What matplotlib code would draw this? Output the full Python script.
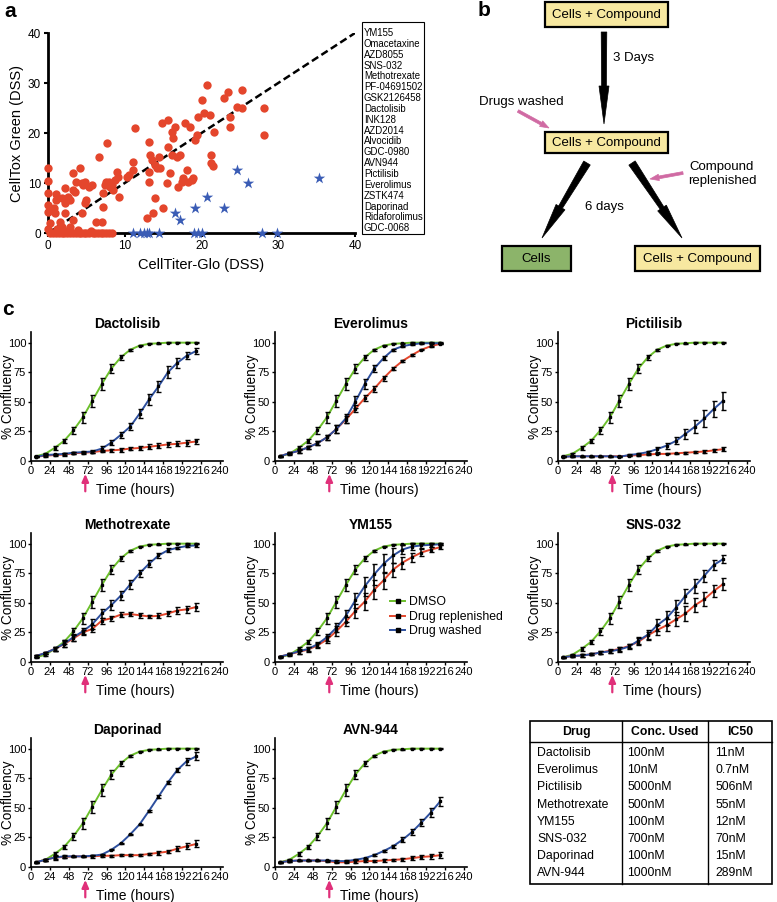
import numpy as np
import matplotlib.pyplot as plt
from matplotlib.patches import Rectangle, Polygon
from matplotlib.lines import Line2D

plt.rcParams['font.family'] = ['Liberation Sans', 'DejaVu Sans']

W, H = 777, 902

# ---- panel a: DSS scatter
red_x = [0, 0, 0, 0, 0, 0.2, 0, 0.8, 0.9, 1.1, 1.0, 1.8, 2.2, 2.2, 2.6, 2.2, 1.6, 1.8, 2.9,
         3.7, 2.9, 3.3, 3.3, 3.5, 4.2, 4.4, 4.6, 4.8, 5.0, 4.8, 4.4, 3.3,
         5.4, 5.7, 6.6, 6.3, 7.0, 7.2, 7.2, 7.4, 7.6, 7.7, 7.9, 8.1, 8.3, 8.5, 8.7, 9.0, 9.2, 9.1,
         10.3, 10.5, 11.1, 11.1, 11.3,
         12.9, 13.1, 13.1, 13.1, 13.3, 13.5, 13.7, 14.0, 14.0, 14.2, 14.4, 14.6, 14.8, 15.0, 15.5,
         15.7, 15.7, 15.9, 16.1, 16.1, 16.3, 16.6, 16.8, 17.0, 17.2, 17.4, 17.6, 17.9, 18.1, 18.3,
         18.5, 18.7, 18.9, 19.2, 19.4, 19.6, 20.0, 20.3, 20.7, 21.1, 21.3, 21.3, 21.6, 21.5,
         22.9, 23.5, 23.7, 23.7, 24.6, 25.3, 25.3, 28.1, 28.1,
         0.3, 0.7, 1.0, 1.4, 1.8, 2.1, 2.5, 2.9, 3.2, 3.6, 4.0, 4.3, 4.7, 5.0, 5.4, 5.8, 6.1,
         6.5, 6.9, 7.2, 7.6, 8.0, 8.4, 1.2, 2.7, 3.9, 5.6]
red_y = [13, 10.5, 8, 5.7, 4.2, 2, 0.8, 5, 4, 6.7, 7.8, 7, 9, 6, 7.3, 4, 2.3, 1.3, 1.3,
         10.3, 6.7, 12, 8.7, 8.3, 13, 10, 9.7, 10.3, 6.7, 6, 4, 2.7,
         9.3, 9.7, 15.3, 2.3, 2.3, 5.3, 8, 9.7, 10.3, 18, 10.3, 9.3, 9.7, 8.7, 10.7, 12.3, 7.3, 11.3,
         11.3, 11.7, 14.3, 12.7, 21,
         3, 10.3, 18.3, 12.3, 15.7, 14.7, 4, 7, 13.7, 13, 15.3, 13, 22, 5, 10,
         22.7, 17.3, 12, 20.3, 15.7, 19, 21.3, 15.3, 9.3, 15.7, 10.3, 11, 22, 12.7, 10.3,
         21.3, 10.7, 11, 18.7, 19.7, 23.3, 26.7, 24, 29.7, 23.7, 15.7, 14, 20.3, 13.5,
         27, 28.3, 23.3, 21.3, 25.3, 28.7, 25, 25, 19.7,
         0, 0, 0, 0, 0, 0, 0, 0, 0, 0, 0, 0, 0, 0, 0, 0, 0,
         0, 0, 0, 0, 0, 0, 0.8, 0.6, 0.7, 0.5]
star_x = [11.1, 12.0, 12.5, 12.9, 13.2, 14.4, 19.0, 19.5, 20.0, 27.9, 29.8,
          16.6, 17.2, 19.2, 20.7, 22.9, 24.6, 26.1, 35.3]
star_y = [0, 0, 0, 0, 0, 0, 0, 0, 0, 0, 0,
          4, 2.7, 5, 7.3, 5, 12.7, 10.1, 11]
star_drugs = ['YM155', 'Omacetaxine', 'AZD8055', 'SNS-032', 'Methotrexate', 'PF-04691502',
              'GSK2126458', 'Dactolisib', 'INK128', 'AZD2014', 'Alvocidib', 'GDC-0980',
              'AVN944', 'Pictilisib', 'Everolimus', 'ZSTK474', 'Daporinad', 'Ridaforolimus',
              'GDC-0068']

# ---- panel c: confluency time courses
hours = [6, 18, 30, 42, 54, 66, 78, 90, 102, 114, 126, 138, 150, 162, 174, 186, 198, 210]
dmso = [4, 6, 11, 17, 26, 37, 51, 65, 78, 87.5, 94, 97.5, 99, 99.5, 100, 100, 100, 100]
dmso_err = [0.5, 1, 2, 2, 3, 4.5, 5, 5, 4, 2, 1, 0.5, 0.5, 0.5, 0.5, 0.5, 0.5, 0.5]

dact_wash = [3.5, 5, 5.5, 6, 7, 7.5, 8, 10.5, 15.5, 22, 29, 40, 52, 63, 75, 83, 89, 93]
dact_wash_err = [0.5, 0.5, 0.5, 1, 1, 1, 1.5, 2, 2, 2.5, 3, 4, 4.5, 5, 5, 4, 3, 2.5]
dact_repl = [3.5, 4.5, 5, 5.5, 6.5, 7, 7.5, 8.5, 9, 9.5, 10.5, 11, 12, 13, 14, 14.5, 15.5, 16.5]
dact_repl_err = [0.5, 1, 1, 1, 1, 1, 1, 1, 1, 1.5, 1.5, 1.5, 2, 2, 2, 2, 2.5, 2.5]

ever_wash = [4, 6.5, 8.5, 11.5, 15, 20, 27, 36, 50, 65, 78, 87, 94, 97, 98.5, 99.5, 99.5, 99.5]
ever_wash_err = [0.5, 1, 2, 1.5, 1.5, 2, 3, 4, 5, 4, 3, 2, 1, 0.5, 0.5, 0.5, 0.5, 0.5]
ever_repl = [4, 6.5, 8.5, 11.5, 15, 20, 27, 35, 44, 53, 61, 70, 78, 84.5, 89.5, 94, 97, 99]
ever_repl_err = [0.5, 1, 2, 1.5, 1.5, 2, 3, 3, 3, 2.5, 2.5, 2, 1.5, 1, 0.5, 0.5, 0.5, 0.5]

pict_wash = [3.5, 4, 4, 4, 4, 4, 3.5, 5, 6, 7.5, 10, 13, 17, 23, 29, 36, 44, 51]
pict_wash_err = [0.5, 0.5, 0.5, 0.5, 0.5, 0.5, 0.5, 0.5, 1, 1, 2, 2.5, 3, 4, 5.5, 7, 7, 7.5]
pict_repl = [3.5, 4, 4, 4, 4, 4, 4, 4.5, 5, 5.5, 6, 6, 6.5, 7, 7.5, 8, 9, 10]
pict_repl_err = [0.5, 0.5, 0.5, 0.5, 0.5, 0.5, 0.5, 0.5, 0.5, 0.5, 0.5, 0.5, 0.5, 1, 1, 1, 1.5, 1.5]

metho_wash = [5, 7.5, 11, 15.5, 21, 26, 32, 41, 48, 56, 65.5, 75, 83, 90, 94.5, 96.5, 98, 98.5]
metho_wash_err = [0.5, 1, 2, 3, 3, 2.5, 4, 4, 4, 4, 4, 3, 3, 2, 1.5, 1, 1, 1]
metho_repl = [5, 7.5, 11, 15, 20, 25, 28, 35, 37, 40, 40.5, 39.5, 38.5, 39, 41, 43.5, 44.5, 46.5]
metho_repl_err = [0.5, 1, 2, 2.5, 2.5, 2, 3, 2.5, 2, 2, 2, 2, 1.5, 2, 2.5, 3, 3, 3.5]

ym_wash = [4.5, 6.5, 9, 11, 15, 21, 29, 39, 52, 64, 74, 83, 90, 95, 97.5, 98.5, 99, 99.5]
ym_wash_err = [0.5, 1, 2, 2, 2, 3, 4, 5, 6, 8, 9, 8, 6, 4, 3, 2, 1.5, 1]
ym_repl = [4.5, 6.5, 8.5, 10.5, 14, 19, 26, 34, 43, 51, 61, 69, 78, 84, 88.5, 92.5, 95, 97]
ym_repl_err = [0.5, 1, 2, 2, 2, 3, 4, 4, 6, 7, 8, 7, 6, 5, 4, 3, 2, 1.5]

sns_wash = [4, 5, 5.5, 6.5, 8, 9, 10.5, 13, 18, 23, 31, 37, 46, 56, 64, 73, 82, 87]
sns_wash_err = [0.5, 1, 1, 1, 1, 1.5, 2, 2, 3, 4, 5, 6, 6, 6, 6, 5, 4, 3]
sns_repl = [4, 5, 5.5, 6.5, 8, 9.5, 11, 13.5, 17, 22.5, 27, 31, 36, 41, 48, 53, 60, 66]
sns_repl_err = [0.5, 1, 1, 1, 1, 1.5, 2, 2, 3, 3, 4, 5, 6, 6, 6, 6, 5, 5]

dapo_wash = [4, 6, 8, 9, 9, 9, 9.5, 10.5, 14.5, 20, 27.5, 36, 47.5, 59.5, 71.5, 82, 89.5, 93.5]
dapo_wash_err = [0.5, 1, 2, 1, 0.5, 0.5, 0.5, 0.5, 0.5, 0.5, 0.5, 0.5, 1, 1.5, 1.5, 2, 3, 3.5]
dapo_repl = [4, 6, 8, 8.5, 9, 9, 9, 9.5, 9.5, 10, 10, 10, 11, 12, 13, 15.5, 17.5, 19.5]
dapo_repl_err = [0.5, 1, 1, 1, 0.5, 0.5, 1, 1, 1, 1, 1, 1, 1, 1.5, 1.5, 2, 2.5, 3]

avn_wash = [4, 5, 5.5, 5.5, 5.5, 5.5, 5, 5, 6, 7.5, 10, 13.5, 17.5, 23, 29.5, 37.5, 46, 55.5]
avn_wash_err = [0.5, 0.5, 0.5, 0.5, 0.5, 0.5, 0.5, 0.5, 0.5, 0.5, 1, 1, 1.5, 2, 2.5, 3, 3.5, 4]
avn_repl = [4, 5, 5.5, 5.5, 5.5, 5, 4, 4, 4.5, 5, 5, 5.5, 6, 6.5, 7.5, 8.5, 9, 10]
avn_repl_err = [0.5, 0.5, 0.5, 0.5, 0.5, 0.5, 0.5, 1, 1, 1, 1, 1, 1, 1.5, 1.5, 2, 2, 2.5]

table_drug = ['Dactolisib', 'Everolimus', 'Pictilisib', 'Methotrexate', 'YM155',
              'SNS-032', 'Daporinad', 'AVN-944']
table_conc = ['100nM', '10nM', '5000nM', '500nM', '100nM', '700nM', '100nM', '1000nM']
table_ic50 = ['11nM', '0.7nM', '506nM', '55nM', '12nM', '70nM', '15nM', '289nM']

GREEN = '#6cc02c'
RED = '#e4462c'
BLUE = '#2d4f9e'
PINK = '#e0307a'
PINK_B = '#d06aa3'
YELLOW = '#f7e8a0'
MOSS = '#8cb46a'

fig = plt.figure(figsize=(W / 100, H / 100), dpi=100)


def px_axes(l, t, r, b):
    return fig.add_axes([l / W, 1 - b / H, (r - l) / W, (b - t) / H])


over = px_axes(0, 0, W, H)
over.set_xlim(0, W)
over.set_ylim(H, 0)
over.axis('off')

# panel letters
over.text(4, 2, 'a', fontsize=15, fontweight='bold', va='top')
over.text(478, 1, 'b', fontsize=15, fontweight='bold', va='top')
over.text(2, 300, 'c', fontsize=15, fontweight='bold', va='top')

# ---- a
ax = px_axes(48, 33, 355, 233)
ax.plot([0, 40], [0, 40], color='black', lw=1.8, ls=(0, (3, 1.5)), zorder=2)
ax.scatter(red_x, red_y, s=36, color=RED, linewidths=0, clip_on=False, zorder=3)
ax.scatter(star_x, star_y, s=75, marker='*', color='#3a5cb5', linewidths=0, clip_on=False, zorder=4)
ax.set_xlim(0, 40)
ax.set_ylim(0, 40)
ax.set_xticks([0, 10, 20, 30, 40])
ax.set_yticks([0, 10, 20, 30, 40])
for s in ['top', 'right']:
    ax.spines[s].set_visible(False)
for s in ['left', 'bottom']:
    ax.spines[s].set_linewidth(2)
ax.tick_params(labelsize=8.5, width=1.5, length=3, pad=2)
ax.set_xlabel('CellTiter-Glo (DSS)', fontsize=10.5, labelpad=4)
ax.set_ylabel('CellTox Green (DSS)', fontsize=10.5, labelpad=3)

over.add_patch(Rectangle((362, 22), 62, 212, fill=False, lw=0.8, ec='black'))
for i, name in enumerate(star_drugs):
    over.text(364, 33 + i * 10.85, name, fontsize=6.9, va='center', ha='left')


# ---- b
def wedge_arrow(x0, y0, x1, y1, w0, w1, hw, hl, color):
    d = np.array([x1 - x0, y1 - y0], float)
    L = np.hypot(*d)
    u = d / L
    n = np.array([-u[1], u[0]])
    p0 = np.array([x0, y0], float)
    pb = p0 + u * (L - hl)
    tip = np.array([x1, y1], float)
    pts = [p0 + n * w0, pb + n * w1, pb + n * hw, tip, pb - n * hw, pb - n * w1, p0 - n * w0]
    over.add_patch(Polygon(pts, closed=True, fc=color, ec=color, lw=0.5))


def box(l, t, r, b, fc, label):
    over.add_patch(Rectangle((l, t), r - l, b - t, fc=fc, ec='black', lw=1.6))
    over.text((l + r) / 2, (t + b) / 2 + 0.5, label, ha='center', va='center', fontsize=9.5)


box(545, 2, 668, 27, YELLOW, 'Cells + Compound')
box(545, 132, 668, 153, YELLOW, 'Cells + Compound')
box(502, 246, 571, 271, MOSS, 'Cells')
box(635, 246, 760, 271, YELLOW, 'Cells + Compound')

wedge_arrow(604, 32, 604, 124, 2.8, 2.4, 5, 38, 'black')
wedge_arrow(587, 163, 542, 238, 3.8, 2.2, 5.2, 36, 'black')
wedge_arrow(632, 163, 682, 238, 3.8, 2.2, 5.2, 36, 'black')
wedge_arrow(518, 111, 549, 128, 1.4, 1.4, 3.2, 9, PINK_B)
wedge_arrow(683, 173, 650, 179, 1.4, 1.4, 3.2, 9, PINK_B)

over.text(613, 58, '3 Days', fontsize=9.5, va='center')
over.text(479, 102, 'Drugs washed', fontsize=9.5, va='center')
over.text(585, 207, '6 days', fontsize=9.5, va='center')
over.text(722, 174, 'Compound\nreplenished', fontsize=9.5, va='center', ha='center',
          linespacing=1.25)

# ---- c
col_left = [31, 275, 558]
row_base = [461, 662, 867]
panels = [
    ('Dactolisib', dact_wash, dact_wash_err, dact_repl, dact_repl_err, 0, 0),
    ('Everolimus', ever_wash, ever_wash_err, ever_repl, ever_repl_err, 0, 1),
    ('Pictilisib', pict_wash, pict_wash_err, pict_repl, pict_repl_err, 0, 2),
    ('Methotrexate', metho_wash, metho_wash_err, metho_repl, metho_repl_err, 1, 0),
    ('YM155', ym_wash, ym_wash_err, ym_repl, ym_repl_err, 1, 1),
    ('SNS-032', sns_wash, sns_wash_err, sns_repl, sns_repl_err, 1, 2),
    ('Daporinad', dapo_wash, dapo_wash_err, dapo_repl, dapo_repl_err, 2, 0),
    ('AVN-944', avn_wash, avn_wash_err, avn_repl, avn_repl_err, 2, 1),
]

for name, wash, wash_err, repl, repl_err, r, c in panels:
    l = col_left[c]
    b = row_base[r]
    ax = px_axes(l, b - 129, l + 192, b)
    for y, e, col in [(dmso, dmso_err, GREEN), (repl, repl_err, RED), (wash, wash_err, BLUE)]:
        ax.plot(hours, y, color=col, lw=1.4, zorder=2, clip_on=False)
        ax.errorbar(hours, y, yerr=e, fmt='s', color='black', ms=2, capsize=1.8,
                    elinewidth=1.1, capthick=1, zorder=3, clip_on=False)
    ax.set_xlim(0, 244)
    ax.set_ylim(0, 109)
    ax.set_xticks(range(0, 241, 24))
    ax.set_yticks([0, 25, 50, 75, 100])
    for s in ['top', 'right']:
        ax.spines[s].set_visible(False)
    for s in ['left', 'bottom']:
        ax.spines[s].set_linewidth(1.2)
    ax.tick_params(labelsize=8, width=1, length=2.5, pad=1)
    ax.set_title(name, fontsize=10, fontweight='bold', pad=3)
    ax.set_ylabel('% Confluency', fontsize=9.8)
    ax.yaxis.set_label_coords(-0.085, 0.5)
    ax.annotate('', xy=(69, -0.1), xytext=(69, -0.235), xycoords=('data', 'axes fraction'),
                arrowprops=dict(arrowstyle='-|>,head_length=0.45,head_width=0.2', color=PINK,
                                lw=1.6, shrinkA=0, shrinkB=0),
                annotation_clip=False)
    ax.annotate('Time (hours)', xy=(83, -0.225), xycoords=('data', 'axes fraction'),
                ha='left', va='center', fontsize=10, annotation_clip=False)
    if name == 'YM155':
        handles = [Line2D([], [], color=col, lw=1.4, marker='s', ms=2.5, mfc='black', mec='black')
                   for col in [GREEN, RED, BLUE]]
        ax.legend(handles, ['DMSO', 'Drug replenished', 'Drug washed'], loc='center left',
                  bbox_to_anchor=(0.6, 0.35), frameon=False, fontsize=8.8, handlelength=1.2,
                  handletextpad=0.35, labelspacing=0.2, borderpad=0, borderaxespad=0)

# table
over.add_patch(Rectangle((530, 721), 242, 163, fill=False, lw=1.2, ec='black'))
over.plot([530, 772], [742, 742], color='black', lw=1)
over.plot([622, 622], [721, 884], color='black', lw=1)
over.plot([708, 708], [721, 884], color='black', lw=1)
for x, h in zip([576, 665, 740], ['Drug', 'Conc. Used', 'IC50']):
    over.text(x, 732, h, ha='center', va='center', fontsize=8.8, fontweight='bold')
for i in range(len(table_drug)):
    yy = 753 + i * 17.2
    over.text(537, yy, table_drug[i], va='center', fontsize=8.8)
    over.text(627, yy, table_conc[i], va='center', fontsize=8.8)
    over.text(715, yy, table_ic50[i], va='center', fontsize=8.8)

fig.savefig('out.png', dpi=100)
